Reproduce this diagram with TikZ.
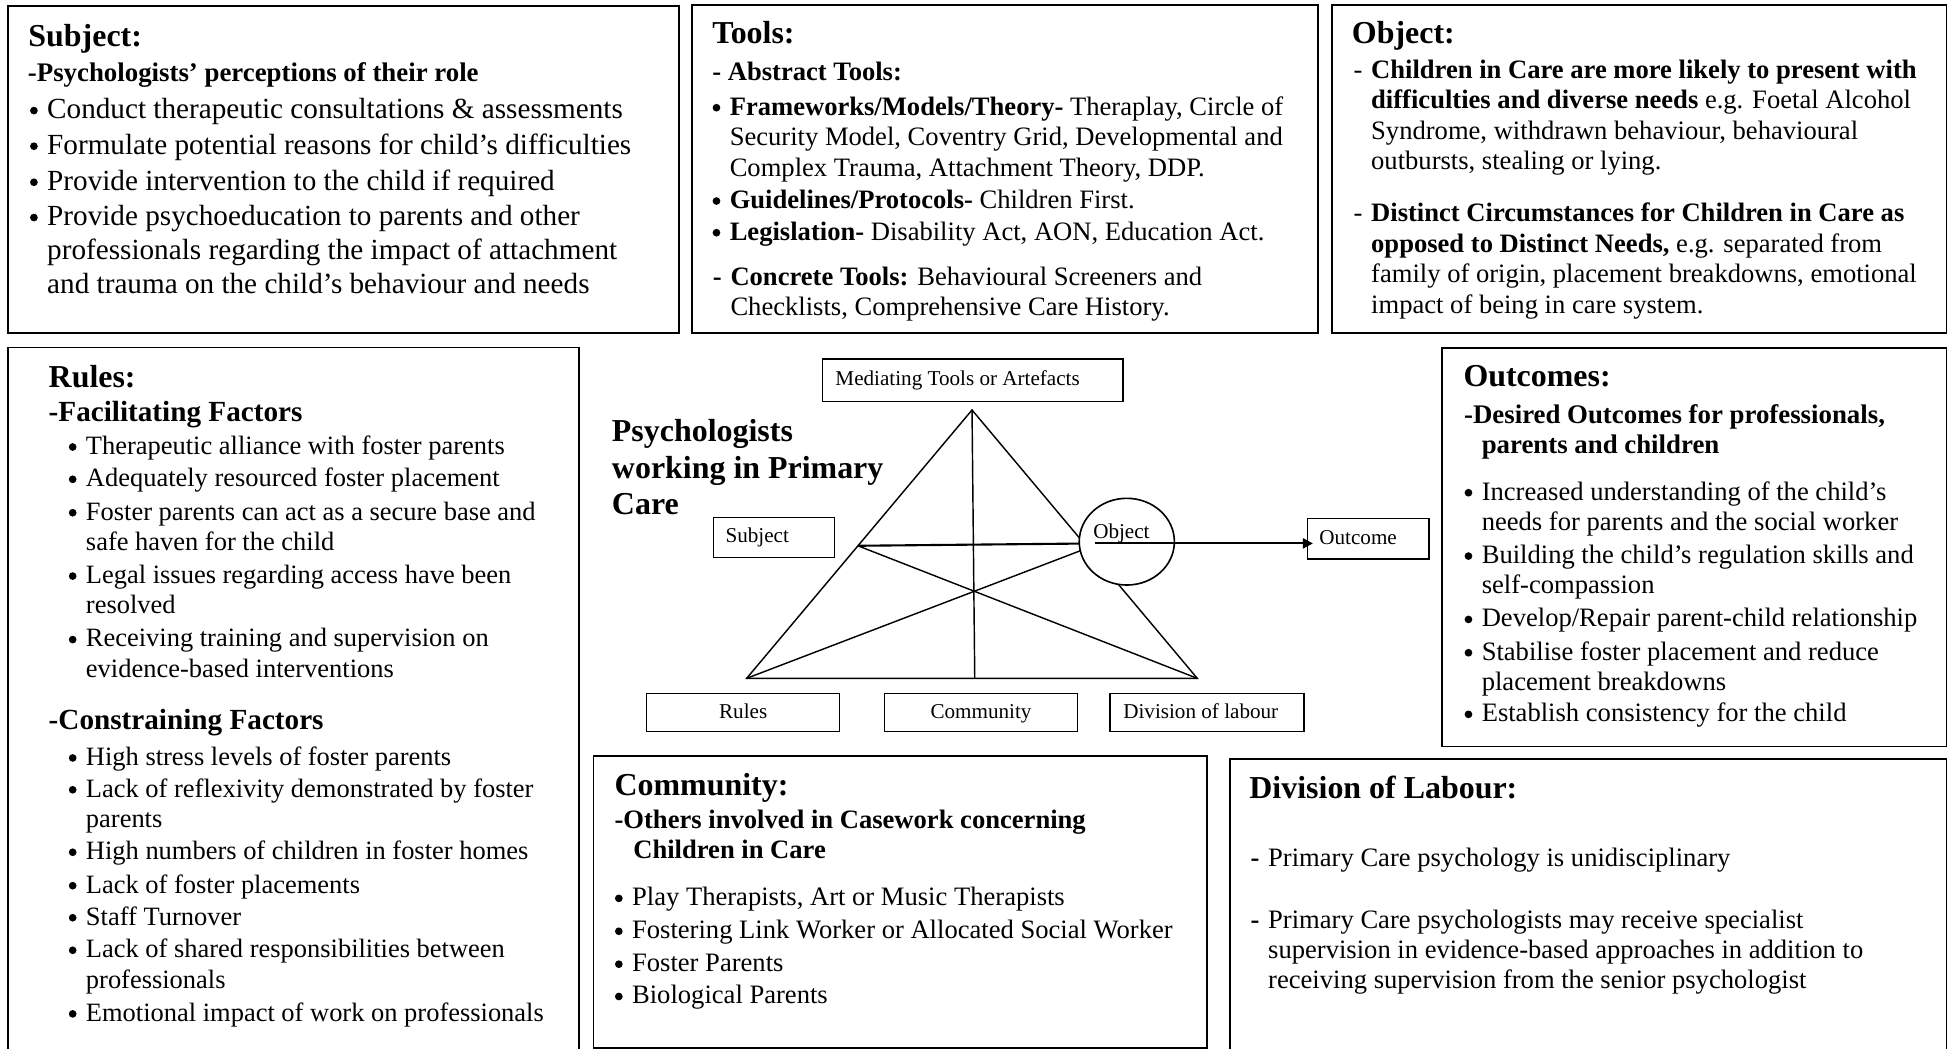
\documentclass[tikz,border=0pt]{standalone}
\usepackage{fontspec}
\setmainfont{Liberation Serif}
\usetikzlibrary{arrows.meta,shapes.geometric}

% text block: size, baseline skip, content (first baseline = node base)
\newcommand\tblk[3]{\parbox[t]{640pt}{\fontsize{#1}{#2}\selectfont#3}}
% round bullet hanging left of the item text
\newcommand\bdot[1][5.9pt]{\leavevmode\llap{\tikz[baseline=0pt]\fill (0,#1) circle (3.1pt);\hspace{7.6pt}}}
% hanging dash left of the item text
\newcommand\dashitem[1]{\leavevmode\llap{#1\hspace{7pt}}}

\tikzset{
  panel/.style={draw, line width=1.5pt, anchor=north west, inner sep=0pt},
  tx/.style={anchor=base west, inner sep=0pt, outer sep=0pt},
  head/.style={tx, font=\fontsize{25.7}{30}\selectfont\bfseries},
  lab/.style={draw, line width=1pt, inner sep=0pt, font=\fontsize{17}{20}\selectfont,
    text height=12.5pt, text depth=3.5pt},
  tri/.style={line width=1.15pt},
  link/.style={line width=1.7pt},
}

\begin{document}
\begin{tikzpicture}[x=1pt, y=-1pt]
\useasboundingbox (0,0) rectangle (1568,844);
\fill[white] (0,0) rectangle (1568,844);
\clip (0,0) rectangle (1568,844);

% ---------- outer panels ----------
\node[panel, minimum width=540pt, minimum height=263pt] (subject) at (6,4) {};
\node[panel, minimum width=504pt, minimum height=263.5pt] (tools) at (556,3.5) {};
\node[panel, minimum width=494.5pt, minimum height=263.5pt] (object) at (1071.5,3.5) {};
\node[panel, minimum width=459pt, minimum height=600pt] (rules) at (6,279) {};
\node[panel, minimum width=406pt, minimum height=320.5pt] (outcomes) at (1160,279.6) {};
\node[panel, minimum width=494pt, minimum height=234.5pt] (community) at (477,608) {};
\node[panel, minimum width=577pt, minimum height=270pt] (division) at (989,610.4) {};

% ---------- Subject ----------
\node[head] (subjHead) at (22.9,37.6) {Subject:};
\node[tx, font=\bfseries] (subjSub) at (22.5,65.7) {\tblk{21.6}{26}{-Psychologists’ perceptions of their role}};
\node[tx] (subjA) at (38,95.3) {\tblk{23.5}{27.4}{\bdot[6.3pt]Conduct therapeutic consultations \& assessments}};
\node[tx] (subjB) at (38,124) {\tblk{23.5}{27.4}{\bdot[6.3pt]Formulate potential reasons for child’s difficulties}};
\node[tx] (subjC) at (38,153) {\tblk{23.5}{27.4}{\bdot[6.3pt]Provide intervention to the child if required}};
\node[tx] (subjD) at (38,181.4) {\tblk{23.5}{27.4}{\bdot[6.3pt]Provide psychoeducation to parents and other\\
  professionals regarding the impact of attachment\\and trauma on the child’s behaviour and needs}};

% ---------- Tools ----------
\node[head] (toolsHead) at (573.4,34.9) {Tools:};
\node[tx, font=\bfseries] (toolsAbs) at (573.4,64.4) {\tblk{21.4}{24.8}{- Abstract Tools:}};
\node[tx] (toolsA) at (587.4,92.6) {\tblk{21.4}{24.8}{\bdot\textbf{Frameworks/Models/Theory-} Theraplay, Circle of\\
  Security Model, Coventry Grid, Developmental and\\Complex Trauma, Attachment Theory, DDP.}};
\node[tx] (toolsB) at (587.4,167.7) {\tblk{21.4}{24.8}{\bdot\textbf{Guidelines/Protocols-} Children First.}};
\node[tx] (toolsC) at (587.4,193.2) {\tblk{21.4}{24.8}{\bdot\textbf{Legislation-} Disability Act, AON, Education Act.}};
\node[tx] (toolsCon) at (588,229.4) {\tblk{21.4}{24.2}{\dashitem{\textbf{-}}\textbf{Concrete Tools:} Behavioural Screeners and\\
  Checklists, Comprehensive Care History.}};

% ---------- Object ----------
\node[head] (objHead) at (1088.2,34.9) {Object:};
\node[tx] (objA) at (1103.7,63) {\tblk{21.4}{24.6}{\dashitem{-}\textbf{Children in Care are more likely to present with}\\
  \textbf{difficulties and diverse needs} e.g. Foetal Alcohol\\Syndrome, withdrawn behaviour, behavioural\\
  outbursts, stealing or lying.}};
\node[tx] (objB) at (1103.7,178.4) {\tblk{21.4}{24.6}{\dashitem{-}\textbf{Distinct Circumstances for Children in Care as}\\
  \textbf{opposed to Distinct Needs,} e.g. separated from\\family of origin, placement breakdowns, emotional\\
  impact of being in care system.}};

% ---------- Rules ----------
\node[head] (rulesHead) at (39.2,312) {Rules:};
\node[tx, font=\bfseries] (rulesFac) at (39.2,339.2) {\tblk{23.5}{28}{-Facilitating Factors}};
\node[tx] (rulesA) at (69.2,365.7) {\tblk{21.3}{24.5}{\bdot Therapeutic alliance with foster parents}};
\node[tx] (rulesB) at (69.2,391.7) {\tblk{21.3}{24.5}{\bdot Adequately resourced foster placement}};
\node[tx] (rulesC) at (69.2,418.6) {\tblk{21.3}{24.5}{\bdot Foster parents can act as a secure base and\\safe haven for the child}};
\node[tx] (rulesD) at (69.2,469.6) {\tblk{21.3}{24.5}{\bdot Legal issues regarding access have been\\resolved}};
\node[tx] (rulesE) at (69.2,520.7) {\tblk{21.3}{24.5}{\bdot Receiving training and supervision on\\evidence-based interventions}};
\node[tx, font=\bfseries] (rulesCon) at (39.2,586.9) {\tblk{23.5}{28}{-Constraining Factors}};
\node[tx] (rulesF) at (69.2,616) {\tblk{21.3}{24.5}{\bdot High stress levels of foster parents}};
\node[tx] (rulesG) at (69.2,641.6) {\tblk{21.3}{24.5}{\bdot Lack of reflexivity demonstrated by foster\\parents}};
\node[tx] (rulesH) at (69.2,691.9) {\tblk{21.3}{24.5}{\bdot High numbers of children in foster homes}};
\node[tx] (rulesI) at (69.2,718.8) {\tblk{21.3}{24.5}{\bdot Lack of foster placements}};
\node[tx] (rulesJ) at (69.2,744.6) {\tblk{21.3}{24.5}{\bdot Staff Turnover}};
\node[tx] (rulesK) at (69.2,770.8) {\tblk{21.3}{24.5}{\bdot Lack of shared responsibilities between\\professionals}};
\node[tx] (rulesL) at (69.2,822) {\tblk{21.3}{24.5}{\bdot Emotional impact of work on professionals}};

% ---------- Outcomes ----------
\node[head] (outHead) at (1178,311.2) {Outcomes:};
\node[tx, font=\bfseries] (outSub) at (1178.5,340.8) {\tblk{21.6}{24.1}{-Desired Outcomes for professionals,\\\hspace*{14.2pt}parents and children}};
\node[tx] (outA) at (1192.7,402.5) {\tblk{21.4}{24.3}{\bdot Increased understanding of the child’s\\needs for parents and the social worker}};
\node[tx] (outB) at (1192.7,453.5) {\tblk{21.4}{24.3}{\bdot Building the child’s regulation skills and\\self-compassion}};
\node[tx] (outC) at (1192.7,504.5) {\tblk{21.4}{24.3}{\bdot Develop/Repair parent-child relationship}};
\node[tx] (outD) at (1192.7,531.3) {\tblk{21.4}{24.3}{\bdot Stabilise foster placement and reduce\\placement breakdowns}};
\node[tx] (outE) at (1192.7,580.9) {\tblk{21.4}{24.3}{\bdot Establish consistency for the child}};

% ---------- Community ----------
\node[head] (commHead) at (494.7,640) {Community:};
\node[tx, font=\bfseries] (commSub) at (494.7,666.8) {\tblk{21.4}{24.1}{-Others involved in Casework concerning\\\hspace*{15.1pt}Children in Care}};
\node[tx] (commA) at (508.8,729) {\tblk{21.4}{24.3}{\bdot Play Therapists, Art or Music Therapists}};
\node[tx] (commB) at (508.8,755.5) {\tblk{21.4}{24.3}{\bdot Fostering Link Worker or Allocated Social Worker}};
\node[tx] (commC) at (508.8,782) {\tblk{21.4}{24.3}{\bdot Foster Parents}};
\node[tx] (commD) at (508.8,808) {\tblk{21.4}{24.3}{\bdot Biological Parents}};

% ---------- Division of Labour ----------
\node[head] (divHead) at (1005.7,642.6) {Division of Labour:};
\node[tx] (divA) at (1020.8,697.6) {\tblk{21.4}{24.2}{\dashitem{\textbf{-}}Primary Care psychology is unidisciplinary}};
\node[tx] (divB) at (1020.8,747.3) {\tblk{21.4}{24.2}{\dashitem{\textbf{-}}Primary Care psychologists may receive specialist\\
  supervision in evidence-based approaches in addition to\\receiving supervision from the senior psychologist}};

% ---------- activity system triangle ----------
\node[tx, font=\bfseries] (title) at (492.6,355.5) {\tblk{25.7}{29.5}{Psychologists\\working in Primary\\Care}};

\node[lab, minimum width=242pt, minimum height=34pt] (mediating) at (783,306) {\makebox[221pt][l]{Mediating Tools or Artefacts}};
\node[lab, minimum width=97.5pt, minimum height=32.2pt] (subjLab) at (623,432.5) {\makebox[77.9pt][l]{Subject}};
\node[lab, minimum width=98pt, minimum height=32.8pt] (outLab) at (1101.3,433.6) {\makebox[78.6pt][l]{Outcome}};
\node[lab, minimum width=155.3pt, minimum height=31pt] (rulesLab) at (598.2,573.5) {Rules};
\node[lab, minimum width=155.8pt, minimum height=31pt] (commLab) at (789.6,573.5) {Community};
\node[lab, minimum width=156.2pt, minimum height=31pt] (divLab) at (971.5,573.5) {\makebox[134.6pt][l]{Division of labour}};

\coordinate (apex) at (782.4,330);
\coordinate (baseL) at (601,546);
\coordinate (baseR) at (963.7,546);
\coordinate (baseM) at (784.6,546);
\coordinate (subjPt) at (690.5,439.3);
\coordinate (objPt) at (872.6,437.5);
\coordinate (objPtB) at (875.6,441);

\draw[tri, line join=miter] (apex) -- (baseL) -- (baseR) -- cycle;
\draw[tri] (apex) -- (baseM);
\draw[tri] (subjPt) -- (baseR);
\draw[tri] (objPtB) -- (baseL);
\draw[link] (subjPt) -- (objPt);

\node[draw, ellipse, fill=white, line width=1.3pt, inner sep=0pt,
  minimum width=76.6pt, minimum height=69.8pt] (objRing) at (907,436) {};
\node[tx, font=\fontsize{17}{20}\selectfont] (objLab) at (880,433.3) {Object};

\coordinate (arrStart) at (881.5,437.4);
\draw[link, -{Triangle[length=8pt,width=8pt]}, shorten >=-5pt] (arrStart) -- (arrStart -| outLab.west);
\end{tikzpicture}
\end{document}
